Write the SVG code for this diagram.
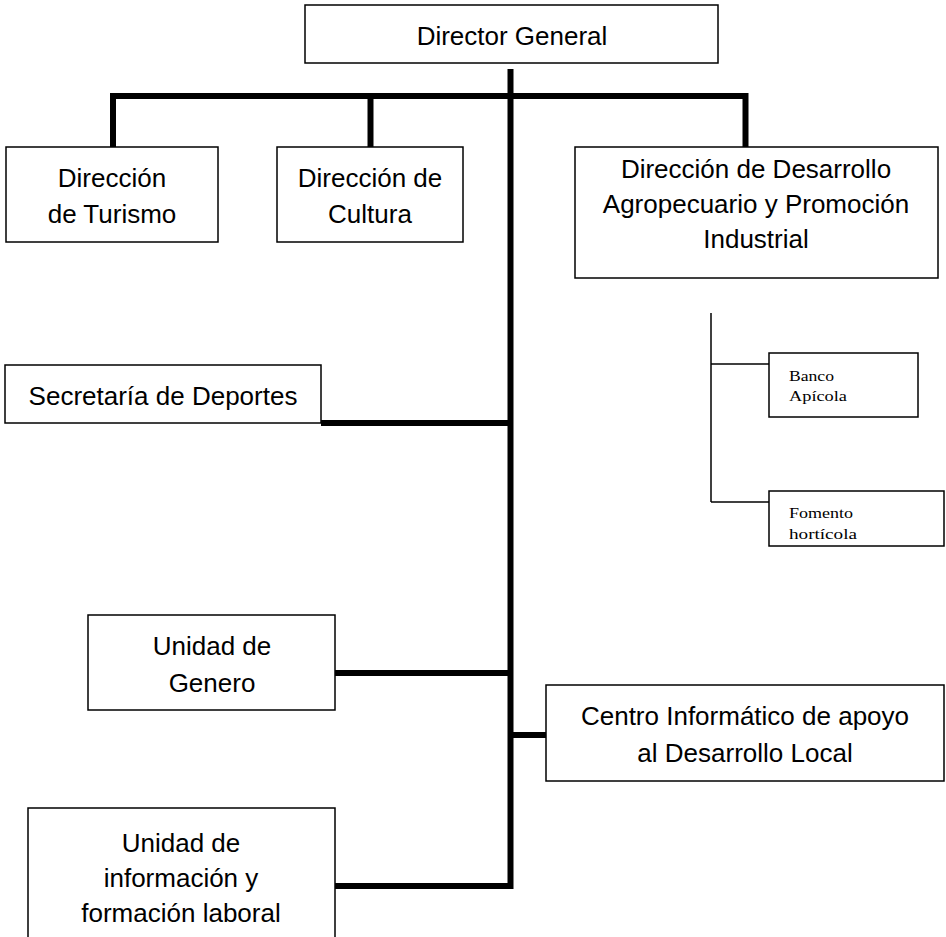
<svg xmlns="http://www.w3.org/2000/svg" width="946" height="937" viewBox="0 0 946 937">
<style>
.box{fill:#fff;stroke:#000;stroke-width:1.5}
.t{font-family:"Liberation Sans",Arial,sans-serif;font-size:26px;fill:#000;text-anchor:middle}
.s{font-family:"Liberation Serif","Times New Roman",serif;font-size:15px;fill:#000}
.thick{stroke:#000;stroke-width:6;fill:none}
.thin{stroke:#000;stroke-width:1.5;fill:none}
</style>
<rect width="946" height="937" fill="#fff"/>
<g id="connectors">
<line class="thick" x1="510.5" y1="69" x2="510.5" y2="889"/>
<line class="thick" x1="110" y1="96" x2="748" y2="96"/>
<line class="thick" x1="113" y1="93" x2="113" y2="147"/>
<line class="thick" x1="370.5" y1="96" x2="370.5" y2="147"/>
<line class="thick" x1="745.5" y1="93" x2="745.5" y2="147"/>
<line class="thick" x1="321" y1="423" x2="513" y2="423"/>
<line class="thick" x1="335" y1="673" x2="513" y2="673"/>
<line class="thick" x1="508" y1="735" x2="546" y2="735"/>
<line class="thick" x1="335" y1="886" x2="513" y2="886"/>
<line class="thin" x1="711" y1="313" x2="711" y2="502"/>
<line class="thin" x1="711" y1="364" x2="769" y2="364"/>
<line class="thin" x1="711" y1="502" x2="769" y2="502"/>
</g>
<g id="director-general">
<rect class="box" x="305" y="5" width="413" height="58"/>
<text class="t" x="512" y="45">Director General</text>
</g>
<g id="direccion-turismo">
<rect class="box" x="6" y="147" width="212" height="95"/>
<text class="t" x="112" y="187">Dirección</text>
<text class="t" x="112" y="223">de Turismo</text>
</g>
<g id="direccion-cultura">
<rect class="box" x="277" y="147" width="186" height="95"/>
<text class="t" x="370" y="187">Dirección de</text>
<text class="t" x="370" y="223">Cultura</text>
</g>
<g id="direccion-desarrollo">
<rect class="box" x="575" y="147" width="363" height="131"/>
<text class="t" x="756" y="178">Dirección de Desarrollo</text>
<text class="t" x="756" y="213">Agropecuario y Promoción</text>
<text class="t" x="756" y="248">Industrial</text>
</g>
<g id="banco-apicola">
<rect class="box" x="769" y="353" width="149" height="64"/>
<text class="s" x="789" y="381" textLength="45" lengthAdjust="spacingAndGlyphs">Banco</text>
<text class="s" x="789" y="401" textLength="58" lengthAdjust="spacingAndGlyphs">Apícola</text>
</g>
<g id="fomento-horticola">
<rect class="box" x="769" y="491" width="175" height="55"/>
<text class="s" x="789" y="518" textLength="64" lengthAdjust="spacingAndGlyphs">Fomento</text>
<text class="s" x="789" y="539" textLength="68" lengthAdjust="spacingAndGlyphs">hortícola</text>
</g>
<g id="secretaria-deportes">
<rect class="box" x="5" y="365" width="316" height="58"/>
<text class="t" x="163" y="405">Secretaría de Deportes</text>
</g>
<g id="unidad-genero">
<rect class="box" x="88" y="615" width="247" height="95"/>
<text class="t" x="212" y="655">Unidad de</text>
<text class="t" x="212" y="692">Genero</text>
</g>
<g id="centro-informatico">
<rect class="box" x="546" y="685" width="398" height="96"/>
<text class="t" x="745" y="725">Centro Informático de apoyo</text>
<text class="t" x="745" y="762">al Desarrollo Local</text>
</g>
<g id="unidad-informacion">
<path class="box" d="M28 940 V808 H335 V940"/>
<text class="t" x="181" y="852">Unidad de</text>
<text class="t" x="181" y="887">información y</text>
<text class="t" x="181" y="922">formación laboral</text>
</g>
</svg>
